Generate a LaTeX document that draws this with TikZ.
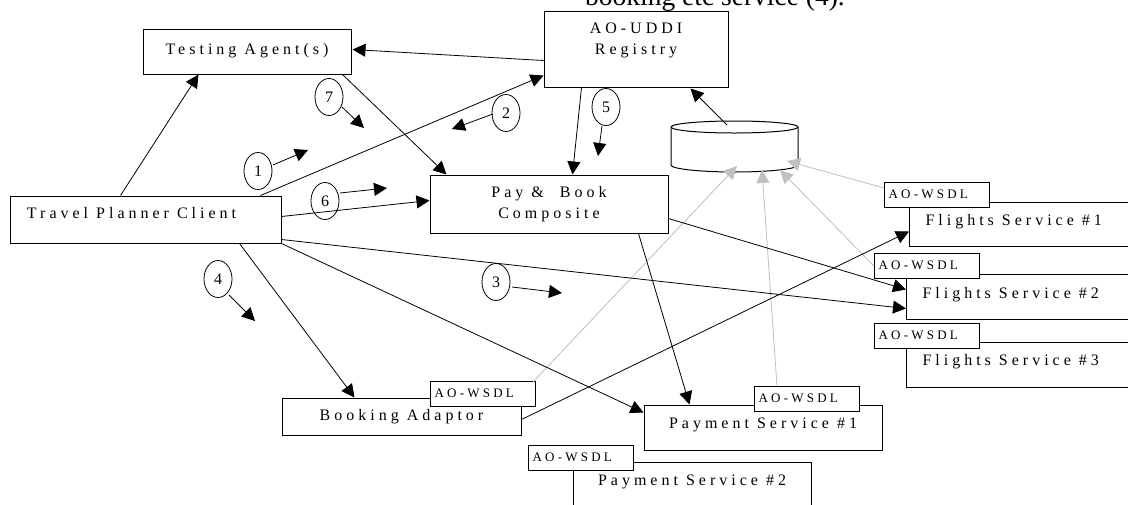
\documentclass[tikz,border=0pt]{standalone}
\usepackage{fontspec}
\setmainfont{Liberation Serif}
\newfontfamily\lblfont[LetterSpace=25]{Liberation Serif}
\usetikzlibrary{arrows.meta,shapes.geometric,calc}
\definecolor{conngray}{RGB}{192,192,192}
\tikzset{
  box/.style={draw=black, line width=1pt, fill=white, rectangle, inner ysep=0pt,
    font=\lblfont\fontsize{16}{21}\selectfont, text height=11.5pt},
  tag/.style={draw=black, line width=1pt, fill=white, rectangle, inner ysep=0pt,
    inner xsep=4pt, minimum height=25pt,
    font=\lblfont\fontsize{13}{15}\selectfont, text height=9.6pt, text depth=3pt},
  num/.style={draw=black, line width=0.8pt, ellipse, inner sep=0pt,
    minimum width=28pt, minimum height=37pt, font=\fontsize{16}{18}\selectfont},
  arr/.style={draw=black, line width=0.8pt, -{Triangle[length=13pt,width=13pt]}},
  garr/.style={draw=conngray, line width=0.8pt, -{Triangle[length=13pt,width=13pt]}}
}
\begin{document}
\begin{tikzpicture}[x=1pt,y=-1pt]
\useasboundingbox (0,0) rectangle (1128,504);
\fill[white] (0,0) rectangle (1128,504);

% partial caption at top (cut off by the top edge, as in the reference)
\node[anchor=base west, inner sep=0pt, font=\fontsize{27.5}{31}\selectfont] (cap) at (585,5) {booking etc service (4).};

% boxes
\node[box, minimum width=208pt, minimum height=45pt, text depth=6pt] (ta) at (247,51.5) {Testing Agent(s)};
\node[box, minimum width=184pt, minimum height=76pt, align=center, text height=] (reg) at (636,49) {AO-UDDI\\Registry\\\mbox{}};
\node[box, inner xsep=17pt, minimum height=47pt, text depth=14pt] (tpc) at (145.5,219.5) {\makebox[237pt][l]{Travel Planner Client}};
\node[box, minimum width=238pt, minimum height=58pt, align=center, text height=] (pb) at (549,204) {Pay \&\ \ Book\\Composite};
\node[box, inner xsep=16pt, minimum height=44pt, text depth=9pt, anchor=west] (f1) at (909,224) {\makebox[209pt][l]{Flights Service \#1}};
\node[box, inner xsep=16pt, minimum height=45pt, text depth=8pt, anchor=west] (f2) at (906,296.5) {\makebox[212pt][l]{Flights Service \#2}};
\node[box, inner xsep=16pt, minimum height=45pt, text depth=10pt, anchor=west] (f3) at (906,364.5) {\makebox[212pt][l]{Flights Service \#3}};
\node[box, minimum width=239pt, minimum height=37pt, text depth=4pt] (ba) at (401.5,416.5) {Booking Adaptor};
\node[box, minimum width=238pt, minimum height=45pt, text depth=10pt] (p1) at (763,427.5) {Payment Service \#1};
\node[box, minimum width=238pt, minimum height=46pt, text depth=11pt] (p2) at (692,485) {Payment Service \#2};

% AO-WSDL tags
\node[tag, anchor=north west] (t1) at (884,182) {\makebox[97pt][l]{AO-WSDL}};
\node[tag, anchor=north west] (t2) at (874,253) {\makebox[97pt][l]{AO-WSDL}};
\node[tag, anchor=north west] (t3) at (874,323) {\makebox[97pt][l]{AO-WSDL}};
\node[tag, anchor=north west] (tb) at (430,381) {\makebox[97pt][l]{AO-WSDL}};
\node[tag, anchor=north west] (tp1) at (754,386) {\makebox[97pt][l]{AO-WSDL}};
\node[tag, anchor=north west] (tp2) at (528,445) {\makebox[97pt][l]{AO-WSDL}};

% database cylinder
\draw[line width=1pt, fill=white] (671,127) -- (671,165)
  .. controls (671,168.87) and (699.43,172) .. (734.5,172)
  .. controls (769.57,172) and (798,168.87) .. (798,165) -- (798,127);
\draw[line width=1pt] (734.5,127) ellipse [x radius=63.5, y radius=6];
\coordinate (dbtop) at (727,125);
\coordinate (dbin1) at (737,166);
\coordinate (dbin2) at (762,170);
\coordinate (dbin3) at (780,170);
\coordinate (dbin4) at (787,161);

% grey registration connectors
\draw[garr] ($(tb.north east)+(-3,1)$) -- (dbin1);
\draw[garr] ($(tp1.north west)+(23,0)$) -- (dbin2);
\draw[garr] ($(t2.north west)+(0,13)$) -- (dbin3);
\draw[garr] ($(t1.north west)+(0,6)$) -- (dbin4);

% black connectors
\draw[arr] ($(reg.north west)+(0,50)$) -- ($(ta.north east)+(1,21)$);
\draw[arr] ($(tpc.north west)+(111,0)$) -- ($(ta.south west)+(56,0)$);
\draw[arr] ($(ta.south east)+(-9,0)$) -- ($(pb.north west)+(17,0)$);
\draw[arr] ($(tpc.north east)+(-21,0)$) -- ($(reg.south west)+(0,-12)$);
\draw[arr] ($(reg.south west)+(38,0)$) -- ($(pb.north west)+(143,0)$);
\draw[arr] (dbtop) -- ($(reg.south east)+(-38,1)$);
\draw[arr] ($(tpc.north east)+(0,21)$) -- ($(pb.north west)+(0,26)$);
\draw[arr] ($(tpc.south east)+(0,-4)$) -- ($(f2.south west)+(0,-11)$);
\draw[arr] ($(pb.north east)+(0,44)$) -- ($(f2.north west)+(0,16)$);
\draw[arr] ($(pb.south east)+(-30,0)$) -- ($(p1.north west)+(46,0)$);
\draw[arr] ($(tpc.south west)+(230,0)$) -- ($(ba.north west)+(73,0)$);
\draw[arr] (tpc.south east) -- ($(p1.north west)+(0,8)$);
\draw[arr] ($(ba.north east)+(0,22)$) -- ($(f1.north west)+(0,30)$);

% numbered step markers
\node[num] (c1) at (258,171) {1};
\node[num] (c2) at (506,113) {2};
\node[num] (c3) at (496,282) {3};
\node[num] (c4) at (218,279) {4};
\node[num] (c5) at (606,107) {5};
\node[num] (c6) at (325,201) {6};
\node[num] (c7) at (329,97) {7};
\draw[arr] ($(c1)+(15,-6)$) -- ($(c1)+(50,-21)$);
\draw[arr] ($(c2)+(-13,1)$) -- ($(c2)+(-54,16)$);
\draw[arr] ($(c3)+(16,5)$) -- ($(c3)+(66,11)$);
\draw[arr] ($(c4)+(11,16)$) -- ($(c4)+(37,42)$);
\draw[arr] ($(c5)+(-4,19)$) -- ($(c5)+(-8,49)$);
\draw[arr] ($(c6)+(15,-8)$) -- ($(c6)+(62,-13)$);
\draw[arr] ($(c7)+(13,10)$) -- ($(c7)+(35,31)$);
\end{tikzpicture}
\end{document}
